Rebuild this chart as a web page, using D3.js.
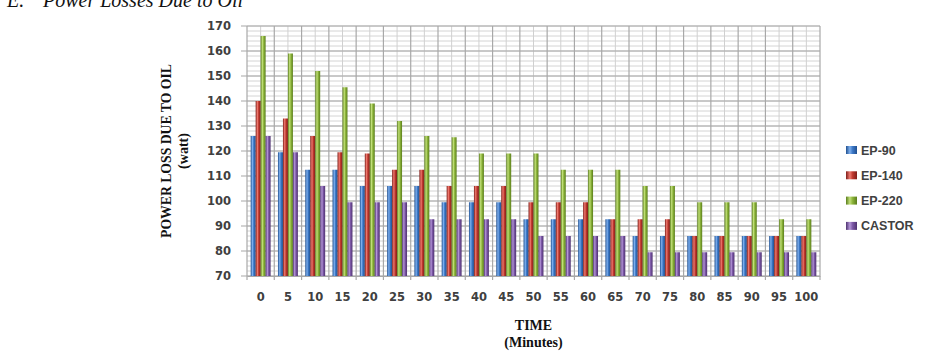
<!DOCTYPE html>
<html>
<head>
<meta charset="utf-8">
<script src="https://cdn.jsdelivr.net/npm/d3@7"></script>
<style>
  body { margin: 0; background: #fff; }
</style>
</head>
<body>
<div id="chart"></div>
<script>
// Data
var times = ['0', '5', '10', '15', '20', '25', '30', '35', '40', '45', '50',
  '55', '60', '65', '70', '75', '80', '85', '90', '95', '100'];
var seriesNames = ['EP-90', 'EP-140', 'EP-220', 'CASTOR'];
var ep90 = [126, 119.5, 112.5, 112.5, 106, 106, 106, 99.5, 99.5, 99.5, 92.7,
  92.7, 92.7, 92.7, 86, 86, 86, 86, 86, 86, 86];
var ep140 = [140, 133, 126, 119.5, 119, 112.5, 112.5, 106, 106, 106, 99.5,
  99.5, 99.5, 92.7, 92.7, 92.7, 86, 86, 86, 86, 86];
var ep220 = [166, 159, 152, 145.5, 139, 132, 126, 125.5, 119, 119, 119,
  112.5, 112.5, 112.5, 106, 106, 99.5, 99.5, 99.5, 92.7, 92.7];
var castor = [126, 119.5, 106, 99.5, 99.5, 99.5, 92.7, 92.7, 92.7, 92.7, 86,
  86, 86, 86, 79.5, 79.5, 79.5, 79.5, 79.5, 79.5, 79.5];
var yTicks = [70, 80, 90, 100, 110, 120, 130, 140, 150, 160, 170];

var seriesValues = [ep90, ep140, ep220, castor];
var colors = ['#3c78c6', '#c0392f', '#8cb43a', '#7c58a6'];
var darkColors = ['#1f4f8f', '#7e1d18', '#5a7d1c', '#4e3270'];
var lightColors = ['#7fb0ee', '#ee7a70', '#c2e07a', '#b496d8'];

// Sizes
var width = 928, height = 358;
var plot = { left: 247, right: 820, top: 26, bottom: 276 };

var svg = d3.select('#chart')
  .append('svg')
  .attr('width', width)
  .attr('height', height);

// Gradients for the shaded bars
var defs = svg.append('defs');
seriesNames.forEach(function(name, i) {
  var g = defs.append('linearGradient')
    .attr('id', 'grad' + i)
    .attr('x1', '0%').attr('x2', '100%')
    .attr('y1', '0%').attr('y2', '0%');
  g.append('stop').attr('offset', '0%').attr('stop-color', darkColors[i]);
  g.append('stop').attr('offset', '35%').attr('stop-color', lightColors[i]);
  g.append('stop').attr('offset', '60%').attr('stop-color', colors[i]);
  g.append('stop').attr('offset', '100%').attr('stop-color', darkColors[i]);
});

// Scales
var x0 = d3.scaleBand()
  .domain(times)
  .range([plot.left, plot.right])
  .paddingInner(0.27)
  .paddingOuter(0.135);

var x1 = d3.scaleBand()
  .domain(seriesNames)
  .range([0, x0.bandwidth()]);

var y = d3.scaleLinear()
  .domain([70, 170])
  .range([plot.bottom, plot.top]);

// Minor horizontal grid
svg.append('g')
  .selectAll('line')
  .data(d3.range(70, 171, 2))
  .enter().append('line')
  .attr('x1', plot.left).attr('x2', plot.right)
  .attr('y1', function(d) { return y(d); })
  .attr('y2', function(d) { return y(d); })
  .attr('stroke', '#d4d4d4')
  .attr('stroke-width', 1);

// Vertical grid: boundaries (major) and middles (minor)
var step = x0.step();
svg.append('g')
  .selectAll('line')
  .data(times)
  .enter().append('line')
  .attr('x1', function(d) { return x0(d) + x0.bandwidth() / 2; })
  .attr('x2', function(d) { return x0(d) + x0.bandwidth() / 2; })
  .attr('y1', plot.top).attr('y2', plot.bottom)
  .attr('stroke', '#d0d0d0');

svg.append('g')
  .selectAll('line')
  .data(d3.range(times.length + 1))
  .enter().append('line')
  .attr('x1', function(i) { return plot.left + i * step; })
  .attr('x2', function(i) { return plot.left + i * step; })
  .attr('y1', plot.top).attr('y2', plot.bottom + 4)
  .attr('stroke', '#a8a8a8')
  .attr('stroke-width', 1.2);

// Major horizontal grid
svg.append('g')
  .selectAll('line')
  .data(yTicks)
  .enter().append('line')
  .attr('x1', plot.left - 6).attr('x2', plot.right)
  .attr('y1', function(d) { return y(d); })
  .attr('y2', function(d) { return y(d); })
  .attr('stroke', '#a8a8a8')
  .attr('stroke-width', 1.2);

// Bars
var groups = svg.append('g')
  .selectAll('g')
  .data(times)
  .enter().append('g')
  .attr('transform', function(d) { return 'translate(' + x0(d) + ',0)'; });

groups.selectAll('rect')
  .data(function(d, i) {
    return seriesNames.map(function(name, s) {
      return { name: name, s: s, value: seriesValues[s][i] };
    });
  })
  .enter().append('rect')
  .attr('x', function(d) { return x1(d.name); })
  .attr('width', x1.bandwidth())
  .attr('y', function(d) { return y(d.value); })
  .attr('height', function(d) { return y(70) - y(d.value); })
  .attr('fill', function(d) { return 'url(#grad' + d.s + ')'; });

// Y axis labels
var yAxis = d3.axisLeft(y)
  .tickValues(yTicks)
  .tickSize(0)
  .tickPadding(16);

svg.append('g')
  .attr('transform', 'translate(' + plot.left + ',0)')
  .call(yAxis)
  .call(function(g) { g.select('.domain').remove(); })
  .selectAll('text')
  .attr('font-family', 'DejaVu Sans, Verdana, sans-serif')
  .attr('font-weight', 'bold')
  .attr('font-size', '11.5px')
  .attr('fill', '#404040');

// X axis labels
var xAxis = d3.axisBottom(x0)
  .tickSize(0)
  .tickPadding(17);

svg.append('g')
  .attr('transform', 'translate(0,' + plot.bottom + ')')
  .call(xAxis)
  .call(function(g) { g.select('.domain').attr('stroke', '#a8a8a8'); })
  .selectAll('text')
  .attr('font-family', 'DejaVu Sans, Verdana, sans-serif')
  .attr('font-weight', 'bold')
  .attr('font-size', '11.5px')
  .attr('fill', '#404040');

// Axis titles
var cy = (plot.top + plot.bottom) / 2;
svg.append('text')
  .attr('transform', 'translate(171,' + cy + ') rotate(-90)')
  .attr('text-anchor', 'middle')
  .attr('font-family', 'Liberation Serif, Times New Roman, serif')
  .attr('font-weight', 'bold')
  .attr('font-size', '14px')
  .attr('textLength', 174)
  .attr('lengthAdjust', 'spacingAndGlyphs')
  .attr('fill', '#111')
  .text('POWER LOSS DUE TO OIL');

svg.append('text')
  .attr('transform', 'translate(188,' + cy + ') rotate(-90)')
  .attr('text-anchor', 'middle')
  .attr('font-family', 'Liberation Serif, Times New Roman, serif')
  .attr('font-weight', 'bold')
  .attr('font-size', '14px')
  .attr('fill', '#111')
  .text('(watt)');

var cx = (plot.left + plot.right) / 2;
svg.append('text')
  .attr('x', cx).attr('y', 330)
  .attr('text-anchor', 'middle')
  .attr('font-family', 'Liberation Serif, Times New Roman, serif')
  .attr('font-weight', 'bold')
  .attr('font-size', '14px')
  .attr('fill', '#111')
  .text('TIME');

svg.append('text')
  .attr('x', cx).attr('y', 347)
  .attr('text-anchor', 'middle')
  .attr('font-family', 'Liberation Serif, Times New Roman, serif')
  .attr('font-weight', 'bold')
  .attr('font-size', '14px')
  .attr('fill', '#111')
  .text('(Minutes)');

// Title, cut at the top edge as in the source
svg.append('text')
  .attr('x', 7).attr('y', 7)
  .attr('font-family', 'Liberation Serif, Times New Roman, serif')
  .attr('font-style', 'italic')
  .attr('font-size', '20px')
  .attr('fill', '#111')
  .text('E.');

svg.append('text')
  .attr('x', 43).attr('y', 7)
  .attr('font-family', 'Liberation Serif, Times New Roman, serif')
  .attr('font-style', 'italic')
  .attr('font-size', '20px')
  .attr('fill', '#111')
  .text('Power Losses Due to Oil');

// Legend
var legend = svg.append('g')
  .selectAll('g')
  .data(seriesNames)
  .enter().append('g')
  .attr('transform', function(d, i) { return 'translate(846,' + (150 + i * 25.3) + ')'; });

legend.append('rect')
  .attr('x', 0).attr('y', -4)
  .attr('width', 11).attr('height', 8)
  .attr('fill', function(d, i) { return 'url(#grad' + i + ')'; });

legend.append('text')
  .attr('x', 15).attr('y', 0)
  .attr('dy', '0.36em')
  .attr('font-family', 'Liberation Sans, Arial, sans-serif')
  .attr('font-weight', 'bold')
  .attr('font-size', '12.5px')
  .attr('fill', '#404040')
  .text(function(d) { return d; });
</script>
</body>
</html>
